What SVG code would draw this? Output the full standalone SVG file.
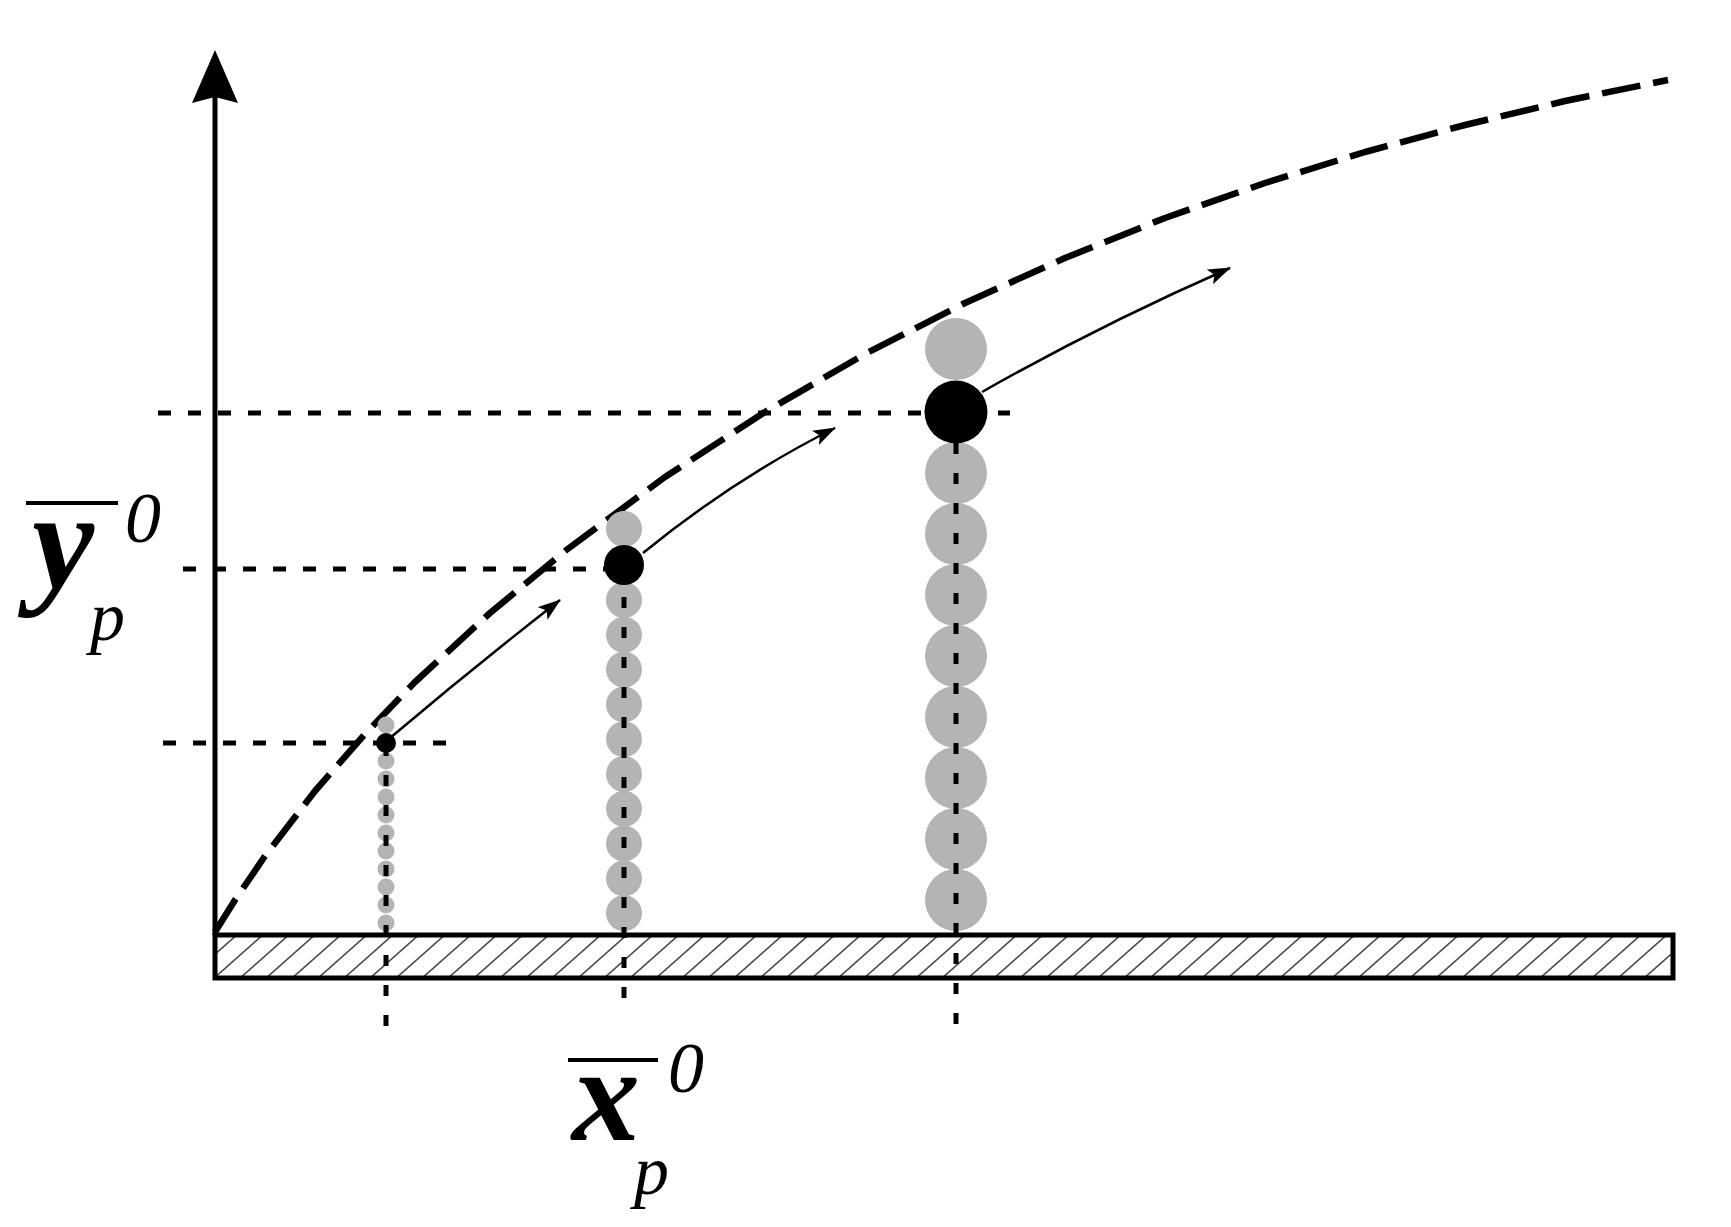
<svg xmlns="http://www.w3.org/2000/svg" width="1731" height="1227" viewBox="0 0 1731 1227">
<style>
.grey{fill:#b4b4b4}
.blk{fill:#000}
.hdot{stroke:#000;stroke-width:5;stroke-dasharray:13 17;fill:none}
.vdot{stroke:#000;stroke-width:5;stroke-dasharray:11 19;fill:none}
.arr{stroke:#000;stroke-width:2.5;fill:none;marker-end:url(#ah)}
</style>
<defs>
<marker id="ah" markerUnits="userSpaceOnUse" markerWidth="26" markerHeight="18" refX="22" refY="8" orient="auto">
<path d="M0,0 L23,8 L0,16 L5,8 Z" fill="#000"/>
</marker>
<pattern id="hatch" patternUnits="userSpaceOnUse" x="213" y="933" width="26" height="46">
<g stroke="#444" stroke-width="1.6">
<line x1="-52" y1="46" x2="0" y2="0"/>
<line x1="-26" y1="46" x2="26" y2="0"/>
<line x1="0" y1="46" x2="52" y2="0"/>
</g>
</pattern>
</defs>
<rect width="1731" height="1227" fill="#fff"/>

<g id="ground">
<rect x="215" y="935" width="1458" height="43" fill="#fff"/>
<rect x="215" y="935" width="1458" height="43" fill="url(#hatch)" stroke="#000" stroke-width="5"/>
</g>

<g id="y-axis">
<line x1="215" y1="95" x2="215" y2="935" stroke="#000" stroke-width="5"/>
<polygon points="215,50 238,103 215,97 192,103" fill="#000"/>
</g>

<g id="curve">
<polyline fill="none" stroke="#000" stroke-width="6.5" stroke-dasharray="39 13" stroke-linejoin="round" points="215,932 235,900 265,856 315,791 365,734 415,682 490,613 565,551 665,477 765,412 865,354 965,303 1065,258 1165,218 1265,183 1365,152 1465,125 1565,101 1668,80"/>
</g>

<g id="column1">
<circle class="grey" cx="386" cy="725" r="8.5"/>
<circle class="grey" cx="386" cy="761" r="8.5"/>
<circle class="grey" cx="386" cy="779" r="8.5"/>
<circle class="grey" cx="386" cy="797" r="8.5"/>
<circle class="grey" cx="386" cy="815" r="8.5"/>
<circle class="grey" cx="386" cy="833" r="8.5"/>
<circle class="grey" cx="386" cy="851" r="8.5"/>
<circle class="grey" cx="386" cy="869" r="8.5"/>
<circle class="grey" cx="386" cy="887" r="8.5"/>
<circle class="grey" cx="386" cy="905" r="8.5"/>
<circle class="grey" cx="386" cy="923" r="8.5"/>
<line class="vdot" x1="386" y1="745" x2="386" y2="1027"/>
<circle class="blk" cx="386" cy="743" r="10"/>
</g>

<g id="column2">
<circle class="grey" cx="624" cy="529" r="18"/>
<circle class="grey" cx="624" cy="600" r="18"/>
<circle class="grey" cx="624" cy="634.8" r="18"/>
<circle class="grey" cx="624" cy="669.6" r="18"/>
<circle class="grey" cx="624" cy="704.4" r="18"/>
<circle class="grey" cx="624" cy="739.2" r="18"/>
<circle class="grey" cx="624" cy="774" r="18"/>
<circle class="grey" cx="624" cy="808.8" r="18"/>
<circle class="grey" cx="624" cy="843.6" r="18"/>
<circle class="grey" cx="624" cy="878.4" r="18"/>
<circle class="grey" cx="624" cy="913.2" r="18"/>
<line class="vdot" x1="624" y1="567" x2="624" y2="1000"/>
<circle class="blk" cx="624" cy="565" r="20"/>
</g>

<g id="column3">
<circle class="grey" cx="956" cy="349" r="31"/>
<circle class="grey" cx="956" cy="473" r="31"/>
<circle class="grey" cx="956" cy="534" r="31"/>
<circle class="grey" cx="956" cy="595" r="31"/>
<circle class="grey" cx="956" cy="656" r="31"/>
<circle class="grey" cx="956" cy="717" r="31"/>
<circle class="grey" cx="956" cy="778" r="31"/>
<circle class="grey" cx="956" cy="839" r="31"/>
<circle class="grey" cx="956" cy="900" r="31"/>
<line class="vdot" x1="956" y1="413" x2="956" y2="1025"/>
<circle class="blk" cx="956" cy="412" r="31.5"/>
</g>

<g id="connectors">
<line class="hdot" x1="163" y1="743" x2="446" y2="743"/>
<line class="hdot" x1="183" y1="569" x2="610" y2="569"/>
<line class="hdot" x1="158" y1="413" x2="1010" y2="413"/>
<path class="arr" d="M390,738 Q474,667 560,600"/>
<path class="arr" d="M643,553 Q735,478 835,428"/>
<path class="arr" d="M982,392 Q1100,325 1230,268"/>
</g>

<g id="label-y" font-family="'Liberation Serif', 'Times New Roman', serif" font-style="italic" fill="#000">
<line x1="26" y1="503" x2="118" y2="503" stroke="#000" stroke-width="4"/>
<text x="32" y="588" font-size="140" font-weight="bold">y</text>
<text x="125" y="542" font-size="72">0</text>
<text x="90" y="640" font-size="70">p</text>
</g>

<g id="label-x" font-family="'Liberation Serif', 'Times New Roman', serif" font-style="italic" fill="#000">
<line x1="568" y1="1060" x2="658" y2="1060" stroke="#000" stroke-width="4"/>
<text x="572" y="1140" font-size="136" font-weight="bold">x</text>
<text x="668" y="1092" font-size="72">0</text>
<text x="634" y="1194" font-size="70">p</text>
</g>
</svg>
